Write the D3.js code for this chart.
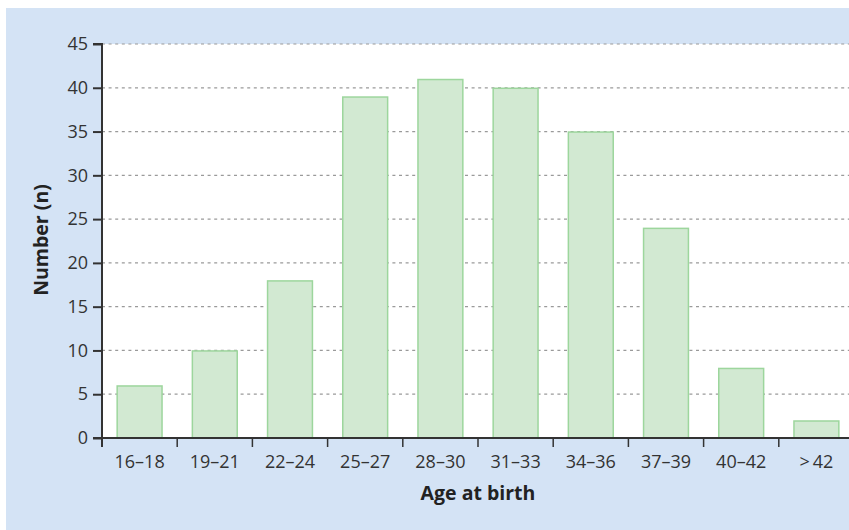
<!DOCTYPE html>
<html><head><meta charset="utf-8">
<script src="https://cdn.jsdelivr.net/npm/d3@7"></script>
<style>body{margin:0;background:#fff;} svg{display:block;}</style>
</head><body>
<svg id="c" width="849" height="530"></svg>
<script>
const categories = ["16–18","19–21","22–24","25–27","28–30","31–33","34–36","37–39","40–42",">\u200942"];
const values = [6, 10, 18, 39, 41, 40, 35, 24, 8, 2];
const yTicks = [0,5,10,15,20,25,30,35,40,45];

(function(){
const svg = d3.select("#c");
const W = 849, H = 530;
const mLeft = 102, mTop = 44, mBottom = 438, bandStep = 75.2;
const mRight = mLeft + bandStep * categories.length;

svg.append("rect").attr("x",6).attr("y",8).attr("width",W-6).attr("height",H-8).attr("fill","#d4e3f5");
svg.append("rect").attr("x",mLeft).attr("y",mTop).attr("width",W-mLeft).attr("height",mBottom-mTop).attr("fill","#fff");

const x = d3.scaleBand().domain(categories).range([mLeft, mRight]).paddingInner(0.39).paddingOuter(0.195);
const y = d3.scaleLinear().domain([0,45]).range([mBottom, mTop]);

svg.append("g").selectAll("line").data(yTicks.filter(d=>d>0)).join("line")
  .attr("x1",mLeft).attr("x2",W).attr("y1",d=>y(d)).attr("y2",d=>y(d))
  .attr("stroke","#9a9a9a").attr("stroke-width",1.2).attr("stroke-dasharray","3,3.6");

svg.append("g").selectAll("rect").data(values).join("rect")
  .attr("x",(d,i)=>x(categories[i])+0.5).attr("y",d=>y(d)+0.5)
  .attr("width",x.bandwidth()-1).attr("height",d=>mBottom-y(d)-0.5)
  .attr("fill","#d2e9d2").attr("stroke","#9dd69d").attr("stroke-width",1.5);

const font = "'Open Sans', sans-serif";
const yAxis = d3.axisLeft(y).tickValues(yTicks).tickSize(9).tickPadding(5);
const gy = svg.append("g").attr("transform",`translate(${mLeft},0)`).call(yAxis);
gy.select(".domain").attr("stroke","#333").attr("stroke-width",2).attr("d",`M-9,${mBottom}H0V${mTop}H-9`);
gy.selectAll(".tick line").attr("stroke","#333").attr("stroke-width",2);
gy.selectAll(".tick text").attr("fill","#333").style("font-family",font).style("font-size","18px");

const xb = d3.scaleLinear().domain([0,categories.length]).range([mLeft,mRight]);
const gx = svg.append("g").attr("transform",`translate(0,${mBottom})`);
gx.append("line").attr("x1",mLeft-9).attr("x2",W).attr("y1",0).attr("y2",0).attr("stroke","#333").attr("stroke-width",2);
gx.selectAll("line.t").data(d3.range(0,categories.length)).join("line").attr("class","t")
  .attr("x1",d=>xb(d)).attr("x2",d=>xb(d)).attr("y1",0).attr("y2",9).attr("stroke","#333").attr("stroke-width",d=>d===0?2:1.5);
gx.selectAll("text").data(categories).join("text")
  .attr("x",d=>x(d)+x.bandwidth()/2).attr("y",30).attr("text-anchor","middle")
  .attr("fill","#333").style("font-family",font).style("font-size","18px").text(d=>d);

svg.append("text").attr("x",478).attr("y",500).attr("text-anchor","middle")
  .attr("fill","#222").style("font-family",font).style("font-size","19.5px").style("font-weight","bold").text("Age at birth");
svg.append("text").attr("transform","translate(48,240) rotate(-90)").attr("text-anchor","middle")
  .attr("fill","#222").style("font-family",font).style("font-size","19.5px").style("font-weight","bold").text("Number (n)");
})();
</script>
</body></html>
